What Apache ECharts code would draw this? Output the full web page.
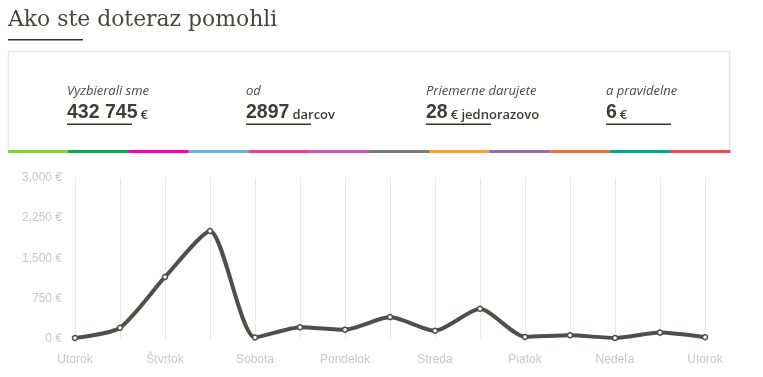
<!DOCTYPE html>
<html>
<head>
<meta charset="utf-8">
<script src="https://cdn.jsdelivr.net/npm/echarts@6/dist/echarts.min.js"></script>
<style>
html,body{margin:0;padding:0;background:#fff;}
#c{width:763px;height:377px;}
</style>
</head>
<body>
<div id="c"></div>
<script>
const title = "Ako ste doteraz pomohli";
const statLabels = ["Vyzbierali sme", "od", "Priemerne darujete", "a pravidelne"];
const statValues = ["432 745", "2897", "28", "6"];
const statUnits = ["€", "darcov", "€ jednorazovo", "€"];
const stripColors = ["#84d22c","#00b050","#ff00aa","#6eb1e8","#f23b95","#d04fc2","#7a7a7a","#ffa033","#8a6fb2","#f2722f","#00ab91","#f04b52"];
const categories = ["Utorok","Streda","Štvrtok","Piatok","Sobota","Nedeľa","Pondelok","Utorok","Streda","Štvrtok","Piatok","Sobota","Nedeľa","Pondelok","Utorok"];
const values = [10, 200, 1150, 2010, 20, 210, 165, 400, 145, 555, 30, 60, 10, 110, 25];
const yMin = 0, yMax = 3000, yInterval = 750;

const chart = echarts.init(document.getElementById('c'), null, {renderer:'canvas'});

const mc = document.createElement('canvas').getContext('2d');
function tw(text, font){ mc.font = font; return mc.measureText(text).width; }

const colX = [67, 246, 426, 606];
const graphics = [];
const tFam = '"DejaVu Serif", serif';
const tSize = Math.max(17, Math.min(24, 20 * 270 / tw(title, '20px ' + tFam)));
graphics.push({type:'text', x:8, y:20, style:{text:title, font:tSize.toFixed(1)+'px ' + tFam, fill:'#444842', verticalAlign:'middle'}});
graphics.push({type:'rect', shape:{x:8, y:39, width:75, height:1.5}, style:{fill:'#2f352f'}});
graphics.push({type:'rect', shape:{x:8.5, y:51.5, width:721, height:100}, style:{fill:'none', stroke:'#e8e8e8', lineWidth:1.5}});
const segW = 722/stripColors.length;
stripColors.forEach((c,i)=>{
  graphics.push({type:'rect', shape:{x:8+i*segW, y:150, width:segW+0.5, height:3}, style:{fill:c}});
});
const valFont = 'bold 19.5px "Liberation Sans", Arial, sans-serif';
const unitFont = '600 13px "Open Sans", sans-serif';
statLabels.forEach((l,i)=>{
  const x = colX[i];
  graphics.push({type:'text', x:x, y:91.5, style:{text:l, font:'italic 13px "Open Sans", sans-serif', fill:'#4a4a4a', verticalAlign:'middle'}});
  graphics.push({type:'text', x:x, y:123, style:{text:statValues[i], font:valFont, fill:'#3a4038', verticalAlign:'bottom'}});
  const w = tw(statValues[i], valFont);
  graphics.push({type:'text', x:x+w+3, y:122, style:{text:statUnits[i], font:unitFont, fill:'#3a4038', verticalAlign:'bottom'}});
  graphics.push({type:'rect', shape:{x:x, y:123.5, width:65, height:1.5}, style:{fill:'#2f352f'}});
});

chart.setOption({
  animation:false,
  graphic: graphics,
  grid:{left:75, right:58, top:178, bottom:38.5, containLabel:false},
  xAxis:{
    type:'category', data:categories, boundaryGap:false,
    axisLine:{show:false}, axisTick:{show:false},
    axisLabel:{interval:1, color:'#c8c8c8', fontSize:12, fontFamily:'"Liberation Sans", Arial, sans-serif', margin:15},
    splitLine:{show:true, interval:0, lineStyle:{color:'#e8e8e8', width:1}}
  },
  yAxis:{
    type:'value', min:yMin, max:yMax, interval:yInterval,
    axisLine:{show:false}, axisTick:{show:false}, splitLine:{show:false},
    axisLabel:{color:'#c8c8c8', fontSize:12, fontFamily:'"Liberation Sans", Arial, sans-serif', margin:13,
      formatter:v=>v.toLocaleString('en-US')+' €'}
  },
  series:[{
    type:'line', data:values, smooth:0.22,
    lineStyle:{color:'#4a5147', width:4},
    symbol:'circle', symbolSize:5, showSymbol:true,
    itemStyle:{color:'#ffffff', borderColor:'#4a5147', borderWidth:1.5}
  }]
});
</script>
</body>
</html>
